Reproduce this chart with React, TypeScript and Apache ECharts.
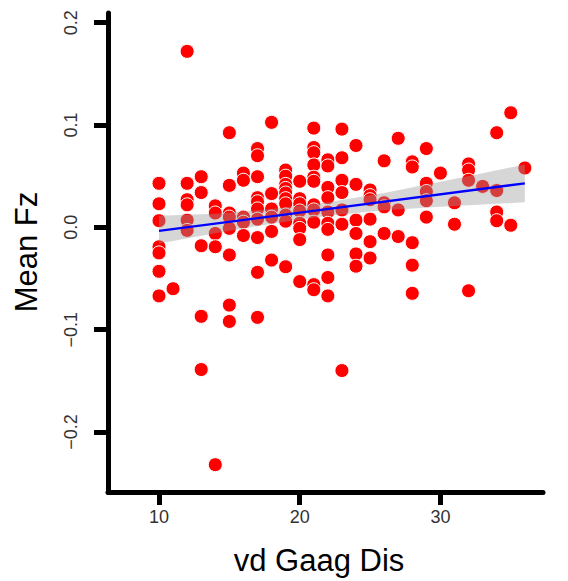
import React, { useEffect, useRef } from "react";
import * as echarts from "echarts";

// vd Gaag distance (x) and Mean Fz (y)
const distX = [
  10, 10, 10, 10, 10, 10, 10,
  11,
  12, 12, 12, 12, 12, 12,
  13, 13, 13, 13, 13,
  14, 14, 14, 14, 14,
  15, 15, 15, 15, 15, 15, 15, 15,
  16, 16, 16, 16, 16,
  17, 17, 17, 17, 17, 17, 17, 17, 17, 17,
  18, 18, 18, 18, 18, 18,
  19, 19, 19, 19, 19, 19, 19, 19, 19, 19,
  20, 20, 20, 20, 20, 20, 20, 20,
  21, 21, 21, 21, 21, 21, 21, 21, 21, 21, 21,
  22, 22, 22, 22, 22, 22, 22, 22, 22, 22,
  23, 23, 23, 23, 23, 23, 23,
  24, 24, 24, 24, 24, 24,
  25, 25, 25, 25, 25, 25,
  26, 26, 26, 26,
  27, 27, 27,
  28, 28, 28, 28, 28,
  29, 29, 29, 29, 29,
  30,
  31, 31,
  32, 32, 32, 32,
  33,
  34, 34, 34, 34,
  35, 35,
  36,
];
const meanFz = [
  0.043, 0.023, 0.0065, -0.019, -0.025, -0.043, -0.067,
  -0.06,
  0.172, 0.043, 0.027, 0.022, 0.007, -0.003,
  0.0495, 0.034, -0.018, -0.087, -0.139,
  0.021, 0.014, -0.006, -0.019, -0.232,
  0.0925, 0.041, 0.014, 0.01, -0.001, -0.027, -0.076, -0.092,
  0.053, 0.046, 0.01, 0.005, -0.008,
  0.077, 0.07, 0.0495, 0.029, 0.025, 0.018, 0.008, -0.01, -0.044, -0.088,
  0.1026, 0.033, 0.018, 0.01, -0.004, -0.032,
  0.056, 0.05, 0.042, 0.038, 0.0335, 0.028, 0.023, 0.012, 0.006, -0.0385,
  0.045, 0.028, 0.023, 0.016, 0.004, -0.001, -0.012, -0.053,
  0.097, 0.078, 0.073, 0.061, 0.049, 0.045, 0.022, 0.017, 0.005, -0.056, -0.061,
  0.066, 0.06, 0.039, 0.029, 0.015, 0.004, -0.002, -0.027, -0.049, -0.067,
  0.096, 0.068, 0.046, 0.034, 0.017, 0.003, -0.14,
  0.08, 0.042, 0.007, -0.006, -0.026, -0.038,
  0.0365, 0.031, 0.027, 0.008, -0.014, -0.03,
  0.065, 0.024, 0.02, -0.006,
  0.087, 0.017, -0.009,
  0.064, 0.059, -0.015, -0.037, -0.0645,
  0.077, 0.043, 0.035, 0.026, 0.01,
  0.053,
  0.024, 0.003,
  0.062, 0.056, 0.046, -0.062,
  0.04,
  0.0925, 0.036, 0.015, 0.0065,
  0.112, 0.002,
  0.058,
];

// fitted regression line and its confidence band
const fitX = [10, 36];
const fitY = [-0.0035, 0.043];
const bandX = [10, 14, 18, 22, 26, 30, 33, 36];
const bandLower = [-0.0157, -0.0058, 0.0036, 0.0114, 0.0166, 0.02, 0.0223, 0.0245];
const bandUpper = [0.0113, 0.0132, 0.018, 0.0246, 0.0336, 0.0446, 0.0529, 0.0615];

const xTicks = [10, 20, 30];
const yTicks = [-0.2, -0.1, 0, 0.1, 0.2];

const FONT = '"Liberation Sans", Arial, Helvetica, sans-serif';

export default function App() {
  const ref = useRef<HTMLDivElement>(null);

  useEffect(() => {
    if (!ref.current) return;
    const chart = echarts.init(ref.current, null, { renderer: "svg" });

    const option: any = {
      animation: false,
      backgroundColor: "#ffffff",
      grid: { left: 108, top: 13, right: 25, bottom: 89, containLabel: false },
      xAxis: {
        type: "value",
        min: 6.375,
        max: 37.29,
        axisLine: { show: true, onZero: false, lineStyle: { color: "#000", width: 5 } },
        axisTick: {
          show: true,
          customValues: xTicks,
          length: 13,
          inside: false,
          lineStyle: { color: "#000", width: 5 },
        },
        axisLabel: {
          customValues: xTicks,
          fontSize: 18,
          color: "#333",
          fontFamily: FONT,
          margin: 16,
        },
        splitLine: { show: false },
      },
      yAxis: {
        type: "value",
        min: -0.2587,
        max: 0.2095,
        axisLine: { show: true, onZero: false, lineStyle: { color: "#000", width: 5 } },
        axisTick: {
          show: true,
          customValues: yTicks,
          length: 14,
          inside: false,
          lineStyle: { color: "#000", width: 5 },
        },
        axisLabel: {
          customValues: yTicks,
          rotate: 90,
          fontSize: 18,
          color: "#333",
          fontFamily: FONT,
          margin: 28,
          formatter: (v: number) => (v < -1e-9 ? "\u2212" : "") + Math.abs(v).toFixed(1),
        },
        splitLine: { show: false },
      },
      graphic: [
        {
          type: "text",
          x: 319,
          y: 560,
          style: {
            text: "vd Gaag Dis",
            fill: "#000",
            fontSize: 31,
            fontFamily: FONT,
            align: "center",
            verticalAlign: "middle",
          },
        },
        {
          type: "text",
          x: 26,
          y: 252,
          rotation: Math.PI / 2,
          style: {
            text: "Mean Fz",
            fill: "#000",
            fontSize: 31,
            fontFamily: FONT,
            align: "center",
            verticalAlign: "middle",
          },
        },
      ],
      series: [
        {
          type: "scatter",
          data: distX.map((x, i) => [x, meanFz[i]]),
          symbol: "circle",
          symbolSize: 14,
          itemStyle: { color: "#ff0000", borderColor: "#ffffff", borderWidth: 1, opacity: 1 },
          z: 2,
          silent: true,
        },
        {
          type: "custom",
          data: [[bandX[0], bandLower[0]]],
          z: 3,
          silent: true,
          renderItem: (params: any, api: any) => {
            if (params.dataIndex !== 0) return null;
            const pts: number[][] = [];
            for (let i = 0; i < bandX.length; i++) pts.push(api.coord([bandX[i], bandUpper[i]]));
            for (let i = bandX.length - 1; i >= 0; i--) pts.push(api.coord([bandX[i], bandLower[i]]));
            return {
              type: "polygon",
              shape: { points: pts },
              style: { fill: "rgba(153,153,153,0.4)", stroke: "none" },
            };
          },
        },
        {
          type: "line",
          data: fitX.map((x, i) => [x, fitY[i]]),
          showSymbol: false,
          symbol: "none",
          lineStyle: { color: "#0000ff", width: 2.3 },
          z: 4,
          silent: true,
        },
      ],
    };

    chart.setOption(option);
    return () => chart.dispose();
  }, []);

  return (
    <div
      ref={ref}
      style={{ position: "absolute", left: 0, top: 0, width: 568, height: 581 }}
    />
  );
}
